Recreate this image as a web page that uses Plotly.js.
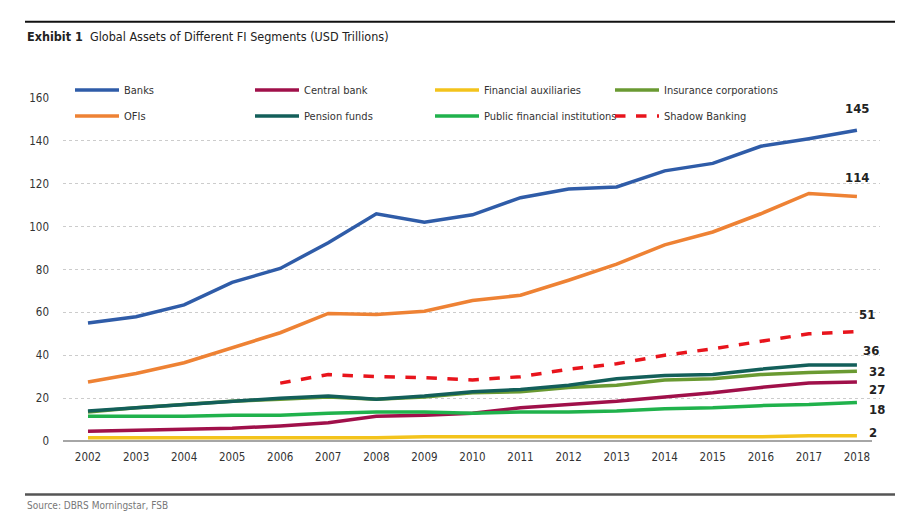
<!DOCTYPE html>
<html><head><meta charset="utf-8">
<script src="https://cdn.plot.ly/plotly-3.0.1.min.js"></script>
<style>html,body{margin:0;padding:0;background:#fff;}#chart{width:912px;height:522px;}#chart text{font-stretch:condensed;}</style>
</head><body><div id="chart"></div>
<script>
const years = [2002,2003,2004,2005,2006,2007,2008,2009,2010,2011,2012,2013,2014,2015,2016,2017,2018];
const banks = [55,58,63.5,74,80.5,92.5,106,102,105.5,113.5,117.5,118.5,126,129.5,137.5,141,145];
const centralBank = [4.5,5,5.5,6,7,8.5,11.5,12,13,15.5,17,18.5,20.5,22.5,25,27,27.5];
const finAux = [1.5,1.5,1.5,1.5,1.5,1.5,1.5,2,2,2,2,2,2,2,2,2.5,2.5];
const insurance = [13.5,15.5,17,18.5,19.5,20.5,19.5,20.5,22.5,23,25,26,28.5,29,31,32,32.5];
const ofis = [27.5,31.5,36.5,43.5,50.5,59.5,59,60.5,65.5,68,75,82.5,91.5,97.5,106,115.5,114];
const pension = [14,15.5,17,18.5,20,21,19.5,21,23,24,26,29,30.5,31,33.5,35.5,35.5];
const publicFI = [11.5,11.5,11.5,12,12,13,13.5,13.5,13,13.5,13.5,14,15,15.5,16.5,17,18];
const shadow = [null,null,null,null,27,31,30,29.5,28.5,30,33.5,36,40,43,46.5,50,51];
const endLabels = ['145','27','2','32','114','36','18','51'];
const seriesNames = ['Banks','Central bank','Financial auxiliaries','Insurance corporations','OFIs','Pension funds','Public financial institutions','Shadow Banking'];
const yTicks = [0,20,40,60,80,100,120,140,160];

const series = [banks, centralBank, finAux, insurance, ofis, pension, publicFI, shadow];
const colors = ['#2f5ca8','#a0104a','#f3c31c','#6a9a32','#ee8234','#135f5a','#20b24c','#e8141c'];
const FONT = '"DejaVu Sans Condensed","Liberation Sans Narrow",Roboto,sans-serif';

const traces = series.map((s, i) => ({
  x: years, y: s, name: seriesNames[i], type: 'scatter', mode: 'lines',
  line: {color: colors[i], width: 3.5, dash: i === 7 ? 'dash' : 'solid'},
  legend: i < 4 ? 'legend' : 'legend2', connectgaps: false, hoverinfo: 'skip'
}));

const offs = [[0,22],[20,-7],[16,3],[20,0],[0,19],[14,14],[20,-7],[10,17]];
const annotations = series.map((s, i) => ({
  x: years[years.length-1], y: s[s.length-1], xref: 'x', yref: 'y',
  text: '<b>' + endLabels[i] + '</b>', showarrow: false,
  xshift: offs[i][0], yshift: offs[i][1],
  font: {family: FONT, size: 13, color: '#222'}
}));

const L = 63, R = 880, T = 97.5, B = 441.5;
const W = 912, H = 522;
const px = v => (v - L) / (R - L);
const py = v => (B - v) / (B - T);

annotations.push({
  xref: 'paper', yref: 'paper', x: px(25), y: py(36), xanchor: 'left', yanchor: 'middle',
  showarrow: false, align: 'left',
  text: '<b>Exhibit 1</b>  Global Assets of Different FI Segments (USD Trillions)',
  font: {family: FONT, size: 12.5, color: '#222'}
});
annotations.push({
  xref: 'paper', yref: 'paper', x: px(25), y: py(506), xanchor: 'left', yanchor: 'middle',
  showarrow: false, align: 'left',
  text: 'Source: DBRS Morningstar, FSB',
  font: {family: FONT, size: 10, color: '#777'}
});

const legendBase = {
  orientation: 'h', x: px(70), xanchor: 'left', yanchor: 'top',
  entrywidth: 121, entrywidthmode: 'pixels', itemwidth: 44, traceorder: 'normal',
  font: {family: FONT, size: 11, color: '#333'}, bgcolor: 'rgba(0,0,0,0)'
};

const layout = {
  width: W, height: H,
  margin: {l: L, r: W - R, t: T, b: H - B, pad: 0},
  paper_bgcolor: '#fff', plot_bgcolor: '#fff',
  font: {family: FONT, size: 11, color: '#333'},
  showlegend: true,
  xaxis: {
    type: 'linear', range: [2001.48, 2018.48], tickvals: years, ticktext: years.map(String),
    showgrid: false, zeroline: false, showline: false, ticks: '', ticklabelstandoff: 7,
    tickfont: {family: FONT, size: 11.5, color: '#333'}, fixedrange: true
  },
  yaxis: {
    range: [0, 160], tickvals: yTicks, showgrid: true, gridcolor: '#cccccc', griddash: 'dot',
    gridwidth: 1, zeroline: false, showline: false, ticks: '', ticklabelstandoff: 13,
    tickfont: {family: FONT, size: 11.5, color: '#333'}, fixedrange: true
  },
  legend: Object.assign({}, legendBase, {y: py(75)}),
  legend2: Object.assign({}, legendBase, {y: py(101)}),
  shapes: [
    {type: 'line', xref: 'paper', yref: 'paper', x0: 0, x1: px(872), y0: 0, y1: 0,
     line: {color: '#888', width: 1.5}},
    {type: 'line', xref: 'paper', yref: 'paper', x0: px(25), x1: px(895), y0: py(21), y1: py(21),
     line: {color: '#111', width: 2}},
    {type: 'rect', xref: 'paper', yref: 'paper', x0: px(25), x1: px(895), y0: py(494), y1: py(496.5),
     fillcolor: '#555', line: {width: 0}, layer: 'above'}
  ],
  annotations: annotations
};

Plotly.newPlot('chart', traces, layout, {displayModeBar: false, staticPlot: true});
</script></body></html>
